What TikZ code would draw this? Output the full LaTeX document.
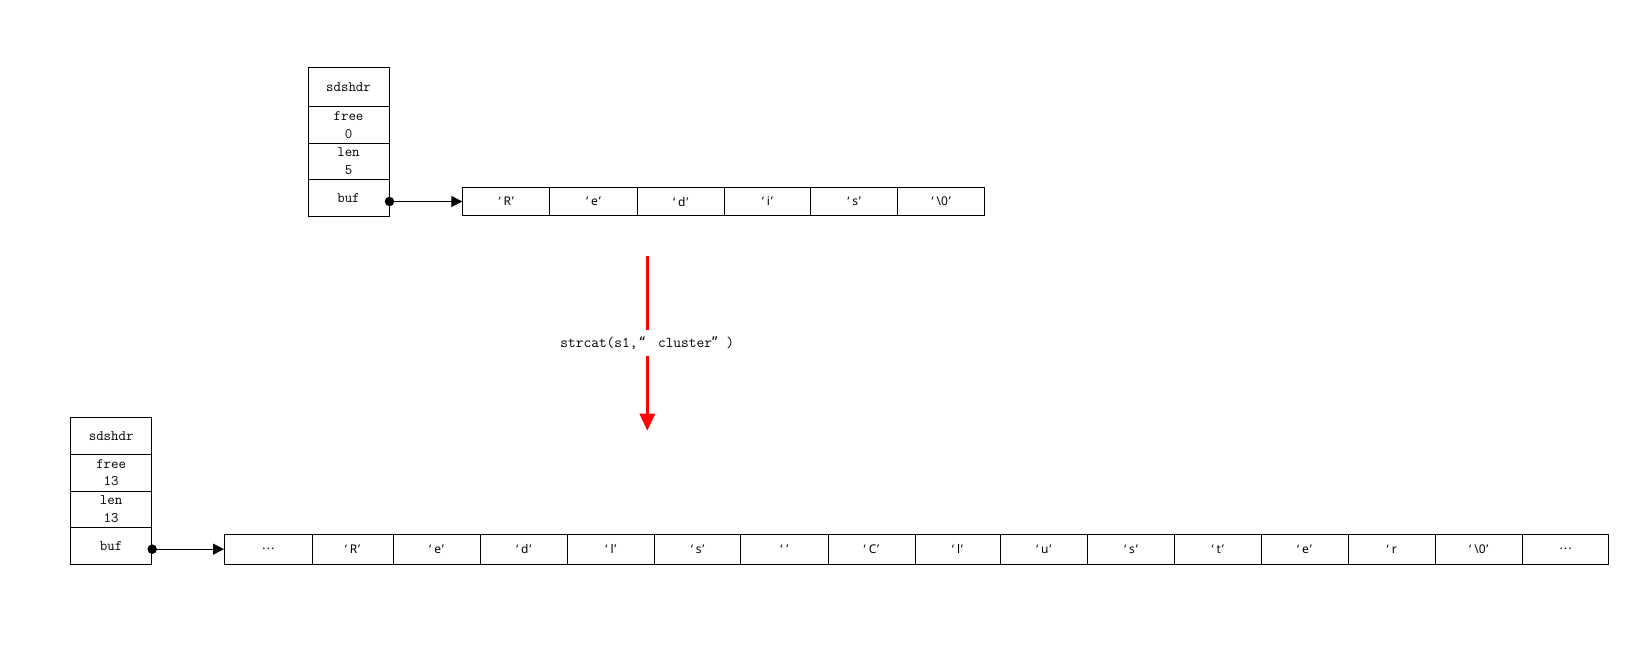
\documentclass[tikz,border=0pt]{standalone}
\usepackage{fontspec}
\newfontfamily\cellfont{Noto Sans}
\newfontfamily\cjk{Noto Sans CJK SC}
\usetikzlibrary{arrows.meta}
\newcommand{\myLQ}{‘\kern3pt}
\newcommand{\myRQ}{\kern0.8pt’}
\begin{document}
\begin{tikzpicture}[x=1pt,y=-1pt,
  hdr/.style={draw, line width=1pt, minimum width=81pt, inner sep=0pt,
    font=\fontsize{14.5}{17.5}\selectfont\ttfamily, align=center},
  cell/.style={draw, line width=1pt, inner sep=0pt, anchor=west,
    font=\fontsize{12}{13}\selectfont\cellfont},
  ptr/.style={line width=1pt, -{Triangle[length=11pt,width=11pt]}},
  dotnode/.style={circle, fill, inner sep=0pt, minimum size=9.5pt},
  redarrow/.style={red, line width=3pt, -{Triangle[length=17pt,width=15pt]}},
  lbl/.style={fill=white, text=black, inner xsep=2pt, inner ysep=6.5pt,
    font=\fontsize{15}{16}\selectfont\ttfamily}]
\useasboundingbox (0,0) rectangle (1628,651);

% top header
\node[hdr, minimum height=39.4pt] (h1t) at (348.5,87) {sdshdr};
\node[hdr, minimum height=36.6pt] (h1f) at (348.5,125) {free\\0};
\node[hdr, minimum height=36pt]   (h1l) at (348.5,161.3) {len\\5};
\node[hdr, minimum height=36.7pt] (h1b) at (348.5,197.65) {buf};

% top array
\begin{scope}[every node/.append style={minimum height=28.4pt}]
\node[cell, minimum width=87pt]   (a1) at (462.3,201.5) {\myLQ R\myRQ};
\node[cell, minimum width=87.4pt] (a2) at (549.3,201.5) {\myLQ e\myRQ};
\node[cell, minimum width=87pt]   (a3) at (636.7,201.5) {\myLQ d\myRQ};
\node[cell, minimum width=86.3pt] (a4) at (723.7,201.5) {\myLQ i\myRQ};
\node[cell, minimum width=87.3pt] (a5) at (810,201.5)   {\myLQ s\myRQ};
\node[cell, minimum width=87pt]   (a6) at (897.3,201.5) {\myLQ\textbackslash0\myRQ};
\end{scope}

\node[dotnode] (d1) at (h1b.east |- a1.west) {};
\draw[ptr] (d1.center) -- (a1.west);

% red arrow with label
\coordinate (rt) at (647.3,256);
\coordinate (rb) at (647.3,430.7);
\draw[redarrow] (rt) -- node[lbl] (op)
  {strcat(s1,\kern2pt{\cellfont“}\kern13pt cluster{\cellfont”}\kern9pt)} (rb);

% bottom header
\node[hdr, minimum height=36.7pt] (h2t) at (111.2,435.65) {sdshdr};
\node[hdr, minimum height=37pt]   (h2f) at (111.2,472.5) {free\\13};
\node[hdr, minimum height=36.3pt] (h2l) at (111.2,509.15) {len\\13};
\node[hdr, minimum height=36.7pt] (h2b) at (111.2,545.65) {buf};

% bottom array
\begin{scope}[every node/.append style={minimum height=29.7pt}]
\node[cell, minimum width=87.5pt] (b1)  at (224,549.15)    {\cjk …};
\node[cell, minimum width=81pt]   (b2)  at (311.5,549.15)  {\myLQ R\myRQ};
\node[cell, minimum width=87.2pt] (b3)  at (392.5,549.15)  {\myLQ e\myRQ};
\node[cell, minimum width=87.2pt] (b4)  at (479.7,549.15)  {\myLQ d\myRQ};
\node[cell, minimum width=87.2pt] (b5)  at (566.9,549.15)  {\myLQ l\myRQ};
\node[cell, minimum width=86.2pt] (b6)  at (654.1,549.15)  {\myLQ s\myRQ};
\node[cell, minimum width=87.2pt] (b7)  at (740.3,549.15)  {\myLQ\myRQ};
\node[cell, minimum width=87pt]   (b8)  at (827.5,549.15)  {\myLQ C\myRQ};
\node[cell, minimum width=85pt]   (b9)  at (914.5,549.15)  {\myLQ l\myRQ};
\node[cell, minimum width=87.5pt] (b10) at (999.5,549.15)  {\myLQ u\myRQ};
\node[cell, minimum width=87pt]   (b11) at (1087,549.15)   {\myLQ s\myRQ};
\node[cell, minimum width=86.5pt] (b12) at (1174,549.15)   {\myLQ t\myRQ};
\node[cell, minimum width=87pt]   (b13) at (1260.5,549.15) {\myLQ e\myRQ};
\node[cell, minimum width=87.5pt] (b14) at (1347.5,549.15) {\myLQ r};
\node[cell, minimum width=86.7pt] (b15) at (1435,549.15)   {\myLQ\textbackslash0\myRQ};
\node[cell, minimum width=86.6pt] (b16) at (1521.7,549.15) {\cjk …};
\end{scope}

\node[dotnode] (d2) at (h2b.east |- b1.west) {};
\draw[ptr] (d2.center) -- (b1.west);
\end{tikzpicture}
\end{document}
